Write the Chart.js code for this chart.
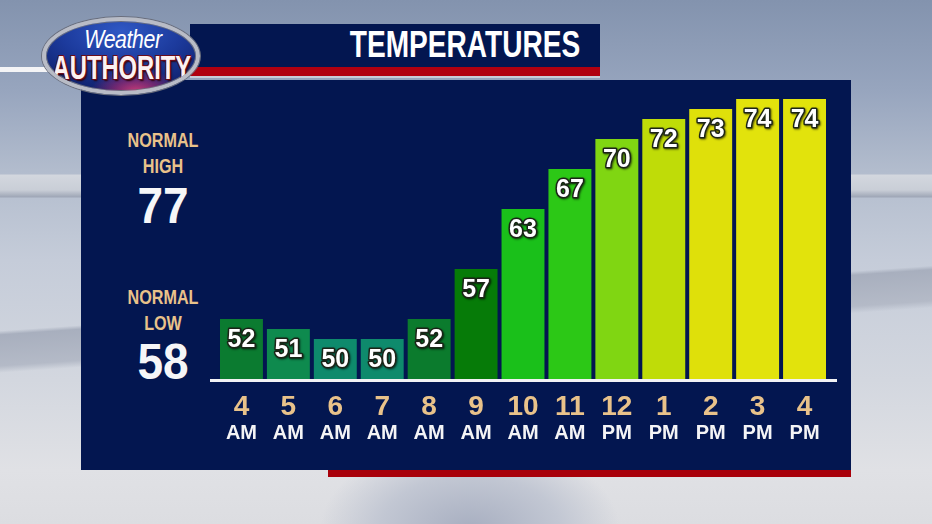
<!DOCTYPE html>
<html>
<head>
<meta charset="utf-8">
<script src="https://cdn.jsdelivr.net/npm/chart.js@4.4.1/dist/chart.umd.min.js"></script>
<style>
  html, body { margin: 0; padding: 0; }
  body {
    width: 932px; height: 524px; overflow: hidden; position: relative;
    font-family: "Liberation Sans", Arial, sans-serif;
    background:
      linear-gradient(180deg, rgba(0,0,0,0) 0, rgba(0,0,0,0) 174px, #d3d7de 175px, #c9ced7 190px, #9ea6b6 197px, rgba(0,0,0,0) 198px),
      linear-gradient(176deg, rgba(0,0,0,0) 0, rgba(0,0,0,0) 330px, #a8afbe 334px, #b4bac7 365px, rgba(0,0,0,0) 372px),
      radial-gradient(ellipse 150px 90px at 470px 530px, #a7aec0 0, #c2c7d3 60%, rgba(0,0,0,0) 100%),
      linear-gradient(180deg, #8393ae 0, #97a5be 90px, #b2bccd 170px, #c5ccd9 260px, #d3d7df 380px, #e0e1e5 470px, #dcdde1 524px);
  }
  .panel { position: absolute; left: 81px; top: 80px; width: 770px; height: 390px; background: #031650; }
  .redbottom { position: absolute; left: 328px; top: 470px; width: 523px; height: 7px; background: #a8000a; }
  .titlebar { position: absolute; left: 190px; top: 24px; width: 410px; height: 43px; background: #031650; }
  .titlered { position: absolute; left: 190px; top: 67px; width: 410px; height: 9px; background: #b00010; border-bottom: 2px solid #c8ccd8; }
  .whiteline { position: absolute; left: 0; top: 67px; width: 60px; height: 5px; background: #f4f4f6; }
  .title {
    position: absolute; left: 300px; top: 27px; width: 330px; text-align: center;
    color: #fff; font-weight: bold; font-size: 36px; line-height: 36px;
    transform: scaleX(0.78); transform-origin: 165px 0;
  }
  .logo {
    position: absolute; left: 42px; top: 17px; width: 150px; height: 70px;
    border-radius: 50%; border: 4px solid #b9bcc6;
    box-shadow: 0 0 0 1px #6a6e7c, inset 0 0 0 1px #6a6e7c;
    background:
      radial-gradient(ellipse 45px 22px at 90px 70px, #c23a78 0, rgba(170,40,110,0.6) 50%, rgba(0,0,0,0) 100%),
      radial-gradient(ellipse 110px 60px at 75px 10px, #2f58c4 0, #1c3a9c 55%, #10226e 100%);
    overflow: hidden;
  }
  .w1 {
    position: absolute; left: 22px; top: 5px; width: 110px; text-align: center;
    color: #fff; font-style: italic; font-size: 26px; line-height: 26px;
    transform: scaleX(0.82); transform-origin: 55px 0; letter-spacing: -0.5px;
  }
  .w2 {
    position: absolute; left: -20px; top: 30px; width: 190px; text-align: center;
    color: #fbf2f2; font-weight: bold; font-size: 33px; line-height: 33px;
    transform: scaleX(0.72); transform-origin: 95px 0;
    text-shadow: -1px -1px 0 #6a0c1a, 1px -1px 0 #6a0c1a, -1px 1px 0 #6a0c1a, 1px 1px 0 #6a0c1a, 2px 2px 2px #300008;
  }
  .norm {
    position: absolute; left: 103px; width: 120px; text-align: center;
    color: #e9c28a; font-weight: bold; font-size: 21px; line-height: 21px;
    transform: scaleX(0.77); transform-origin: 60px 0;
  }
  .big {
    position: absolute; left: 103px; width: 120px; text-align: center;
    color: #f6f6f8; font-weight: bold; font-size: 50px; line-height: 50px;
    transform: scaleX(0.92); transform-origin: 60px 0;
  }
  .chartbox { position: absolute; left: 81px; top: 80px; width: 770px; height: 390px; }
</style>
</head>
<body>
<div class="panel"></div>
<div class="redbottom"></div>
<div class="titlebar"></div>
<div class="titlered"></div>
<div class="whiteline"></div>
<div class="title">TEMPERATURES</div>
<div class="logo"><div class="w1">Weather</div><div class="w2">AUTHORITY</div></div>

<div class="norm" style="top:129px">NORMAL</div>
<div class="norm" style="top:155px">HIGH</div>
<div class="big" style="top:181px">77</div>
<div class="norm" style="top:286px">NORMAL</div>
<div class="norm" style="top:312px">LOW</div>
<div class="big" style="top:337px">58</div>

<div class="chartbox"><canvas id="tempChart"></canvas></div>

<script>
const hours = ["4", "5", "6", "7", "8", "9", "10", "11", "12", "1", "2", "3", "4"];
const periods = ["AM", "AM", "AM", "AM", "AM", "AM", "AM", "AM", "PM", "PM", "PM", "PM", "PM"];
const temps = [52, 51, 50, 50, 52, 57, 63, 67, 70, 72, 73, 74, 74];
const barColors = ["#0b7b30", "#0e8a4e", "#0e8a6c", "#0e8a6c", "#0b7b2d", "#067b08",
                   "#1ac01a", "#2cc816", "#80d612", "#bfdc08", "#dfe00a", "#e2e30c", "#e2e30c"];

/* ==============================
   BAR VALUE LABELS + BASELINE
================================ */
const valueLabels = {
    id: "valueLabels",
    afterDatasetsDraw(chart) {
        const ctx = chart.ctx;
        const area = chart.chartArea;

        ctx.save();
        ctx.strokeStyle = "#f2f2f4";
        ctx.lineWidth = 3;
        ctx.beginPath();
        ctx.moveTo(area.left - 8, area.bottom + 1.5);
        ctx.lineTo(area.right + 9, area.bottom + 1.5);
        ctx.stroke();

        ctx.font = "bold 25px 'Liberation Sans', Arial, sans-serif";
        ctx.textAlign = "center";
        ctx.textBaseline = "middle";
        ctx.lineJoin = "round";
        chart.getDatasetMeta(0).data.forEach((bar, i) => {
            const y = bar.y + 21;
            ctx.shadowColor = "rgba(0,0,0,0.6)";
            ctx.shadowOffsetX = 1;
            ctx.shadowOffsetY = 1;
            ctx.shadowBlur = 2;
            ctx.strokeStyle = "#1c2418";
            ctx.lineWidth = 3;
            ctx.strokeText(String(temps[i]), bar.x, y);
            ctx.shadowColor = "transparent";
            ctx.fillStyle = "#ffffff";
            ctx.fillText(String(temps[i]), bar.x, y);
        });
        ctx.restore();
    }
};

new Chart(document.getElementById("tempChart"), {
    type: "bar",
    data: {
        labels: hours,
        datasets: [{
            data: temps,
            backgroundColor: barColors,
            borderWidth: 0,
            barPercentage: 0.915,
            categoryPercentage: 1
        }]
    },
    options: {
        responsive: true,
        maintainAspectRatio: false,
        animation: false,
        layout: { padding: { left: 137, right: 23, top: 9, bottom: 0 } },
        plugins: { legend: { display: false }, tooltip: { enabled: false } },
        scales: {
            y: { display: false, min: 46, max: 75 },
            x: {
                position: "bottom",
                grid: { display: false, drawTicks: false },
                border: { display: false },
                ticks: {
                    color: "#e9c28a",
                    font: { family: "'Liberation Sans', Arial, sans-serif", size: 28, weight: "bold" },
                    padding: 11,
                    maxRotation: 0,
                    autoSkip: false
                },
                afterFit: s => { s.height = 41; }
            },
            x2: {
                type: "category",
                position: "bottom",
                labels: periods,
                offset: true,
                grid: { display: false, drawTicks: false },
                border: { display: false },
                ticks: {
                    color: "#f4f4f6",
                    font: { family: "'Liberation Sans', Arial, sans-serif", size: 20, weight: "bold" },
                    padding: 1,
                    maxRotation: 0,
                    autoSkip: false
                },
                afterFit: s => { s.height = 50; }
            }
        }
    },
    plugins: [valueLabels]
});
</script>
</body>
</html>
